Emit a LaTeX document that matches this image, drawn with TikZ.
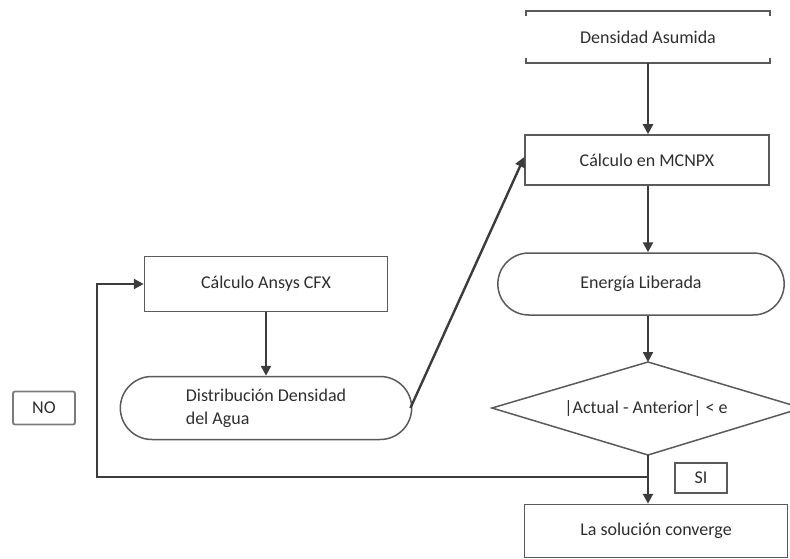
\documentclass[tikz,border=0pt]{standalone}
\usepackage{fontspec}
\setmainfont{Carlito}
\usetikzlibrary{arrows.meta,shapes.geometric,shapes.misc}
\definecolor{ln}{HTML}{3C3C3C}
\definecolor{bx}{HTML}{5A5A5A}
\definecolor{tx}{HTML}{2E2E2E}
\begin{document}
\begin{tikzpicture}[x=1pt,y=-1pt,
  font=\fontsize{18}{23}\selectfont, text=tx,
  box/.style={draw=bx, line width=1.5pt, rectangle, minimum width=#1},
  box/.default=244pt,
  stad/.style={draw=bx, line width=1.5pt, rounded rectangle},
  conn/.style={draw=ln, line width=2.4pt, -{Triangle[length=10pt,width=10pt]}},
  lbl/.style={draw=bx!80, line width=1.8pt, rounded corners=2pt}]
\useasboundingbox (0,0) rectangle (790,559);
% nodes
\node[minimum width=244pt, minimum height=52pt] (da) at (648,37) {Densidad Asumida};
\draw[bx, line width=1.5pt] ([yshift=-5pt]da.north west) -- (da.north west) -- (da.north east) -- ([yshift=-5pt]da.north east);
\draw[bx, line width=1.5pt] ([yshift=5pt]da.south west) -- (da.south west) -- (da.south east) -- ([yshift=5pt]da.south east);
\node[box, minimum height=50pt] (mc) at (647,160) {Cálculo en MCNPX};
\node[stad, minimum width=293pt, minimum height=62pt] (el) at (641,284) {Energía Liberada};
\node[inner sep=0pt] (dia) at (646,408) {|Actual - Anterior| < e};
\coordinate (dt) at (648,362);
\coordinate (dl) at (492,408);
\coordinate (dr) at (802,408);
\coordinate (db) at (648,455);
\draw[bx, line width=1.5pt] (dt) -- (dl) -- (db) -- (dr) -- cycle;
\node[draw=bx, line width=1.8pt, rectangle, minimum width=52pt, minimum height=30pt] (si) at (701,478) {SI};
\node[box=263pt, minimum height=53pt] (sc) at (656,531) {La solución converge};
\node[box=243pt, minimum height=55pt] (ans) at (266,284) {Cálculo Ansys CFX};
\node[stad, minimum width=298pt, minimum height=63pt, align=left] (dis) at (266,408) {Distribución Densidad\\del Agua};
\node[lbl, minimum width=62pt, minimum height=33pt] (no) at (44,408) {NO};
% connectors
\draw[conn] (da.south -| dt) -- (mc.north -| dt);
\draw[conn] (mc.south -| dt) -- (el.north -| dt);
\draw[conn] (el.south -| dt) -- (dt);
\draw[conn] (db) -- (sc.north -| db);
\coordinate (j) at (648,477);
\coordinate (c) at (97,477);
\draw[conn] (j) -- (c) |- (ans.west);
\draw[conn] (ans.south) -- (dis.north);
\draw[conn] ([xshift=-2pt]dis.east) -- ([yshift=3pt]mc.west);
\end{tikzpicture}
\end{document}
